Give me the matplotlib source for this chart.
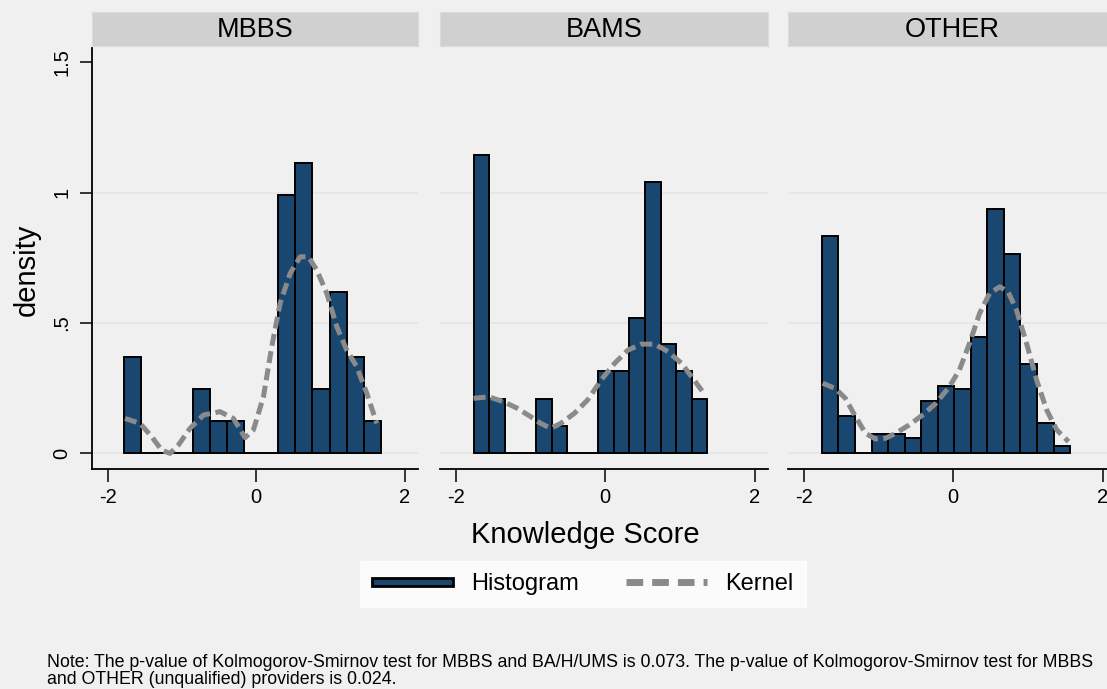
import matplotlib
matplotlib.use("Agg")
import matplotlib.pyplot as plt
from matplotlib.patches import Patch, Rectangle
from matplotlib.lines import Line2D
from matplotlib.legend_handler import HandlerPatch

plt.rcParams["font.family"] = ["Liberation Sans", "DejaVu Sans"]

# ── Data ──────────────────────────────────────────────────────────────────────
panels = ["MBBS", "BAMS", "OTHER"]

# histogram bins: first left edge and bin width per panel
bin_start = [-1.773, -1.760, -1.755]
bin_width = [0.2302, 0.2086, 0.2214]

mbbs_density  = [0.371, 0, 0, 0, 0.248, 0.124, 0.124, 0, 0, 0.991, 1.115, 0.248, 0.620, 0.371, 0.124]
bams_density  = [1.145, 0.207, 0, 0, 0.207, 0.105, 0, 0, 0.316, 0.316, 0.520, 1.042, 0.418, 0.316, 0.207]
other_density = [0.835, 0.143, 0, 0.073, 0.073, 0.058, 0.202, 0.260, 0.246, 0.445, 0.937, 0.763, 0.344, 0.115, 0.029]

# kernel density curves
mbbs_kx = [-1.764, -1.562, -1.405, -1.270, -1.158, -1.046, -0.889, -0.709, -0.485, -0.305, -0.148,
           -0.036, 0.099, 0.211, 0.323, 0.458, 0.593, 0.705, 0.817, 0.952, 1.087, 1.221, 1.356, 1.491, 1.625]
mbbs_ky = [0.134, 0.115, 0.064, 0.012, 0.0, 0.032, 0.096, 0.147, 0.160, 0.134, 0.060,
           0.090, 0.217, 0.409, 0.575, 0.690, 0.754, 0.754, 0.703, 0.614, 0.486, 0.396, 0.332, 0.230, 0.115]

bams_kx = [-1.760, -1.558, -1.356, -1.176, -0.997, -0.862, -0.727, -0.593, -0.413, -0.233,
           -0.054, 0.126, 0.305, 0.485, 0.664, 0.844, 1.024, 1.158, 1.338]
bams_ky = [0.211, 0.217, 0.198, 0.173, 0.141, 0.115, 0.096, 0.115, 0.153, 0.205,
           0.281, 0.345, 0.396, 0.419, 0.419, 0.390, 0.345, 0.294, 0.224]

other_kx = [-1.746, -1.576, -1.441, -1.306, -1.172, -1.037, -0.902, -0.768, -0.588, -0.409, -0.229, -0.049,
            0.085, 0.220, 0.355, 0.489, 0.624, 0.736, 0.848, 0.983, 1.118, 1.253, 1.387, 1.544]
other_ky = [0.269, 0.249, 0.211, 0.141, 0.077, 0.055, 0.058, 0.077, 0.109, 0.147, 0.192, 0.256,
            0.320, 0.422, 0.537, 0.614, 0.639, 0.620, 0.550, 0.422, 0.281, 0.166, 0.090, 0.045]

densities = [mbbs_density, bams_density, other_density]
kernels_x = [mbbs_kx, bams_kx, other_kx]
kernels_y = [mbbs_ky, bams_ky, other_ky]

x_ticks = [-2, 0, 2]
y_ticks = [0, 0.5, 1, 1.5]
y_ticklabels = ["0", ".5", "1", "1.5"]

note = ("Note: The p-value of Kolmogorov-Smirnov test for MBBS and BA/H/UMS is 0.073. "
        "The p-value of Kolmogorov-Smirnov test for MBBS\n"
        "and OTHER (unqualified) providers is 0.024.")

# ── Style ─────────────────────────────────────────────────────────────────────
BG     = "#f0f0f0"
NAVY   = "#1a476f"
KGREY  = "#8a8a8a"
STRIP  = "#d0d0d0"
GRID   = "#e4e4e4"

W, H = 1107, 689
fig = plt.figure(figsize=(W / 100, H / 100), dpi=100, facecolor=BG)

# panel pixel extents (left, right); all share top/bottom
lefts  = [92, 440, 788]
rights = [418, 768, 1116]
top, bottom = 48, 469

for i, name in enumerate(panels):
    l, r = lefts[i], rights[i]
    ax = fig.add_axes([l / W, 1 - bottom / H, (r - l) / W, (bottom - top) / H])
    ax.set_facecolor(BG)

    edges = [bin_start[i] + k * bin_width[i] for k in range(len(densities[i]))]
    ax.bar(edges, densities[i], width=bin_width[i], align="edge",
           color=NAVY, edgecolor="black", linewidth=1.4, zorder=3)
    ax.plot(kernels_x[i], kernels_y[i], color=KGREY, lw=3.6,
            linestyle=(0, (2.4, 1.1)), zorder=4)

    ax.set_xlim(-2.209, 2.18)
    ax.set_ylim(-0.06, 1.555)
    for yv in [0, 0.5, 1]:
        ax.axhline(yv, color=GRID, lw=1.2, zorder=1)

    for s in ["top", "right"]:
        ax.spines[s].set_visible(False)
    ax.spines["bottom"].set_linewidth(1.3)
    ax.set_xticks(x_ticks)
    ax.set_xticklabels([str(t) for t in x_ticks], fontsize=14.5)
    ax.tick_params(axis="x", length=9, width=1.1, pad=5)

    if i == 0:
        ax.spines["left"].set_linewidth(1.3)
        ax.set_yticks(y_ticks)
        ax.set_yticklabels(y_ticklabels, fontsize=14.5, rotation=90, va="center")
        ax.tick_params(axis="y", length=9, width=1.1, pad=6)
    else:
        ax.spines["left"].set_visible(False)
        ax.set_yticks([])

    # strip header
    sax = fig.add_axes([l / W, 1 - 46 / H, (r - l) / W, 34 / H])
    sax.set_facecolor(STRIP)
    for s in sax.spines.values():
        s.set_color("#d6dde2")
    sax.set_xticks([])
    sax.set_yticks([])
    sax.text(0.5, 0.47, name, ha="center", va="center", fontsize=19.5,
             transform=sax.transAxes)

fig.text(27 / W, 1 - 270 / H, "density", rotation=90, ha="center", va="center", fontsize=21)
fig.text(585 / W, 1 - 535 / H, "Knowledge Score", ha="center", va="center", fontsize=21)


def flat_bar(legend, orig_handle, xdescent, ydescent, width, height, fontsize):
    # thin flat bar like Stata's histogram key
    h = 0.33 * fontsize
    return Rectangle((-xdescent, -ydescent + (height - h) / 2), width, h)


handles = [Patch(facecolor=NAVY, edgecolor="black", linewidth=2.0),
           Line2D([0], [0], color=KGREY, lw=5, linestyle=(0, (2.4, 1.3)))]
leg = fig.legend(handles, ["Histogram", "Kernel"], loc="center",
                 bbox_to_anchor=(583 / W, 1 - 584 / H), ncol=2, fontsize=17,
                 frameon=True, fancybox=False, handlelength=3.4,
                 columnspacing=2.0, borderpad=0.5, handletextpad=0.8, borderaxespad=0,
                 handler_map={Patch: HandlerPatch(patch_func=flat_bar)})
leg.get_frame().set_facecolor("white")
leg.get_frame().set_edgecolor("white")

fig.text(47 / W, 1 - 671 / H, note, ha="left", va="center", fontsize=12.8,
         linespacing=0.95)

fig.savefig("out.png", dpi=100, facecolor=BG)
